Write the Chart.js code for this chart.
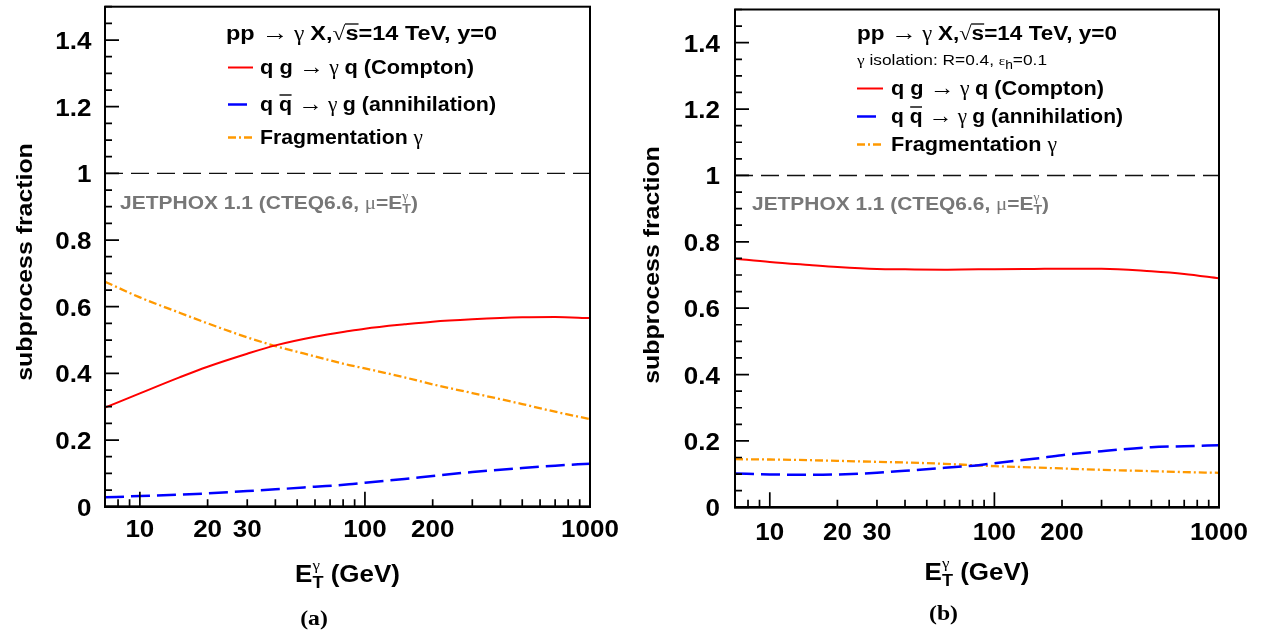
<!DOCTYPE html>
<html>
<head>
<meta charset="utf-8">
<script src="https://cdn.jsdelivr.net/npm/chart.js@4.4.0/dist/chart.umd.min.js"></script>
<style>
  html, body { margin: 0; padding: 0; background: #fff; }
  #wrap { position: relative; width: 1262px; height: 633px; overflow: hidden; }
  canvas { position: absolute; top: 0; }
  #panelA { left: 0; }
  #panelB { left: 631px; }
</style>
</head>
<body>
<div id="wrap">
  <canvas id="panelA" width="631" height="633"></canvas>
  <canvas id="panelB" width="631" height="633"></canvas>
</div>
<script>
// Photon transverse energy grid (GeV)
const energies = [7, 10, 15, 20, 30, 40, 60, 85, 100, 150, 200, 300, 500, 700, 1000];

// (a) inclusive photons
const comptonA       = [0.297, 0.340, 0.388, 0.420, 0.459, 0.484, 0.510, 0.527, 0.534, 0.547, 0.555, 0.562, 0.568, 0.569, 0.566];
const annihilationA  = [0.028, 0.032, 0.036, 0.040, 0.047, 0.052, 0.060, 0.067, 0.072, 0.083, 0.092, 0.104, 0.116, 0.123, 0.129];
const fragmentationA = [0.675, 0.628, 0.582, 0.550, 0.508, 0.482, 0.451, 0.425, 0.415, 0.388, 0.367, 0.341, 0.308, 0.285, 0.263];

// (b) isolated photons
const comptonB       = [0.749, 0.739, 0.730, 0.724, 0.718, 0.717, 0.716, 0.717, 0.717, 0.718, 0.719, 0.719, 0.711, 0.703, 0.690];
const annihilationB  = [0.102, 0.099, 0.098, 0.099, 0.104, 0.110, 0.119, 0.127, 0.133, 0.146, 0.157, 0.169, 0.181, 0.184, 0.187];
const fragmentationB = [0.145, 0.144, 0.142, 0.140, 0.137, 0.135, 0.131, 0.126, 0.124, 0.120, 0.117, 0.113, 0.109, 0.106, 0.104];

// reference level at fraction = 1
const unityE = [7, 1000];
const unityLevel = [1, 1];

const xTickValues = [10, 20, 30, 100, 200, 1000];
const xTickLabels = ['10', '20', '30', '100', '200', '1000'];
const yTickValues = [0, 0.2, 0.4, 0.6, 0.8, 1, 1.2, 1.4];
const yTickLabels = ['0', '0.2', '0.4', '0.6', '0.8', '1', '1.2', '1.4'];

// ---- text helpers (horizontally widened Helvetica-style lettering) ----
const SX = 1.13;
const SANS = '"Liberation Sans", Arial, Helvetica, sans-serif';
const SERIF = '"Liberation Serif", "DejaVu Serif", serif';
const bold = s => `bold ${s}px ${SANS}`;
const plain = s => `${s}px ${SANS}`;
const greek = s => `${s}px ${SERIF}`;

function partWidth(ctx, p, sx) { ctx.font = p.font; return ctx.measureText(p.text).width * sx; }
function richWidth(ctx, parts, sx) {
  let w = 0, held = 0;
  for (const p of parts) {
    const pw = partWidth(ctx, p, sx);
    if (p.hold) { held = Math.max(held, pw); continue; }
    w += Math.max(held, pw); held = 0;
  }
  return w + held;
}
// draws a run of mixed-font text; if fitWidth is given the run is stretched to that width
function drawRich(ctx, x, y, parts, align = 'left', color = '#000', fitWidth = null) {
  ctx.save();
  ctx.textBaseline = 'alphabetic';
  ctx.textAlign = 'left';
  const sx = fitWidth ? fitWidth / richWidth(ctx, parts, 1) : SX;
  const total = richWidth(ctx, parts, sx);
  let cx = align === 'center' ? x - total / 2 : align === 'right' ? x - total : x;
  let held = 0;
  for (const p of parts) {
    const pw = partWidth(ctx, p, sx);
    ctx.save();
    ctx.translate(cx, y + (p.dy || 0));
    ctx.scale(sx, 1);
    ctx.font = p.font;
    ctx.fillStyle = p.color || color;
    ctx.fillText(p.text, 0, 0);
    ctx.restore();
    if (p.bar) {
      ctx.save();
      ctx.strokeStyle = p.color || color;
      ctx.lineWidth = p.bar.w || 1.4;
      ctx.beginPath();
      ctx.moveTo(cx + (p.bar.x0 || 0), y + p.bar.y);
      ctx.lineTo(cx + pw + (p.bar.x1 || 0), y + p.bar.y);
      ctx.stroke();
      ctx.restore();
    }
    if (p.hold) { held = Math.max(held, pw); continue; }
    cx += Math.max(held, pw); held = 0;
  }
  ctx.restore();
}

// ---- per-panel annotation layout (page coordinates) ----
const decor = {
  panelA: {
    offset: 0, yLabelRight: 91.5, xLabelBase: 536.5,
    yTitle: { x: 32, y: 262 }, xTitle: { x: 347.5, y: 582 },
    tag: { text: '(a)', x: 314, y: 625 },
    header: { x: 226, y: 40, w: 271 }, iso: null,
    legend: { x0: 228, x1: 253, tx: 260, rows: [74, 111, 144], widths: [214, 236, 163] },
    jet: { x: 120, y: 209, w: 298 }
  },
  panelB: {
    offset: 631, yLabelRight: 720, xLabelBase: 540,
    yTitle: { x: 659, y: 265 }, xTitle: { x: 977, y: 580 },
    tag: { text: '(b)', x: 943.5, y: 620 },
    header: { x: 857, y: 40, w: 260 }, iso: { x: 857, y: 65, w: 190 },
    legend: { x0: 857, x1: 883, tx: 891, rows: [95, 123, 151], widths: [213, 232, 166] },
    jet: { x: 752, y: 210, w: 297 }
  }
};

const FS = 20;      // legend lettering
const AR = 23;      // arrow glyph
const legendRows = [
  { key: 'compton', parts: [
    { text: 'q g ', font: bold(FS) }, { text: '\u2192', font: greek(AR) },
    { text: ' \u03b3 ', font: greek(FS) }, { text: 'q (Compton)', font: bold(FS) }] },
  { key: 'annihilation', parts: [
    { text: 'q ', font: bold(FS) }, { text: 'q', font: bold(FS), bar: { y: -16, x0: 0.5, x1: -0.5 } },
    { text: ' ', font: bold(FS) }, { text: '\u2192', font: greek(AR) },
    { text: ' \u03b3 ', font: greek(FS) }, { text: 'g (annihilation)', font: bold(FS) }] },
  { key: 'fragmentation', parts: [
    { text: 'Fragmentation ', font: bold(FS) }, { text: '\u03b3', font: greek(FS) }] }
];

const panelDecor = {
  id: 'panelDecor',
  afterDraw(chart) {
    const d = decor[chart.canvas.id];
    const ctx = chart.ctx, a = chart.chartArea;
    const xs = chart.scales.x, ys = chart.scales.y;
    const o = d.offset;
    ctx.save();

    // tick marks, pointing into the frame
    ctx.strokeStyle = '#000';
    ctx.lineWidth = 1.7;
    ctx.beginPath();
    for (let k = 0; k <= 30; k++) {
      const v = k * 0.05;
      const py = ys.getPixelForValue(v);
      const len = (k % 4 === 0) ? 14 : 7;
      ctx.moveTo(a.left, py); ctx.lineTo(a.left + len, py);
    }
    for (let dec = 1; dec <= 100; dec *= 10) {
      for (let m = 1; m <= 9; m++) {
        const v = m * dec;
        if (v < 7 || v > 1000) continue;
        const px = xs.getPixelForValue(v);
        const len = (m === 1) ? 15 : 7.5;
        ctx.moveTo(px, a.bottom); ctx.lineTo(px, a.bottom - len);
      }
    }
    const px1000 = xs.getPixelForValue(1000);
    ctx.moveTo(px1000, a.bottom); ctx.lineTo(px1000, a.bottom - 15);
    ctx.stroke();

    // frame
    ctx.lineWidth = 2;
    ctx.strokeRect(a.left, a.top, a.right - a.left, a.bottom - a.top);
    ctx.lineWidth = 2.6;
    ctx.beginPath(); ctx.moveTo(a.left - 1, a.bottom); ctx.lineTo(a.right + 1, a.bottom); ctx.stroke();

    // tick labels
    yTickValues.forEach((v, i) => {
      drawRich(ctx, d.yLabelRight - o, ys.getPixelForValue(v) + 9, [{ text: yTickLabels[i], font: bold(23) }], 'right');
    });
    xTickValues.forEach((v, i) => {
      drawRich(ctx, xs.getPixelForValue(v), d.xLabelBase, [{ text: xTickLabels[i], font: bold(23) }], 'center');
    });

    // axis titles
    drawRich(ctx, d.xTitle.x - o, d.xTitle.y, [
      { text: 'E', font: bold(23) },
      { text: 'T', font: bold(16), dy: 6, hold: true },
      { text: '\u03b3', font: greek(15), dy: -12 },
      { text: ' (GeV)', font: bold(23) }], 'center');
    ctx.save();
    ctx.translate(d.yTitle.x - o, d.yTitle.y);
    ctx.rotate(-Math.PI / 2);
    drawRich(ctx, 0, 0, [{ text: 'subprocess fraction', font: bold(22) }], 'center');
    ctx.restore();

    // panel tag
    drawRich(ctx, d.tag.x - o, d.tag.y, [{ text: d.tag.text, font: `bold 21px ${SERIF}` }], 'center');

    // header
    drawRich(ctx, d.header.x - o, d.header.y, [
      { text: 'pp ', font: bold(FS) }, { text: '\u2192', font: greek(AR) },
      { text: ' \u03b3 ', font: greek(FS) }, { text: 'X,', font: bold(FS) },
      { text: '\u221a', font: greek(FS) },
      { text: 's', font: bold(FS), bar: { y: -16, x0: -0.5, w: 1.3 } },
      { text: '=14 TeV, y=0', font: bold(FS) }], 'left', '#000', d.header.w);

    if (d.iso) {
      drawRich(ctx, d.iso.x - o, d.iso.y, [
        { text: '\u03b3', font: greek(15) },
        { text: ' isolation: R=0.4, ', font: plain(15) },
        { text: '\u03b5', font: greek(13) },
        { text: 'h', font: plain(12), dy: 4 },
        { text: '=0.1', font: plain(15) }], 'left', '#000', d.iso.w);
    }

    // legend
    const byLabel = {};
    chart.data.datasets.forEach(ds => { byLabel[ds.label] = ds; });
    legendRows.forEach((row, i) => {
      const ds = byLabel[row.key];
      const base = d.legend.rows[i];
      ctx.save();
      ctx.strokeStyle = ds.borderColor;
      ctx.lineWidth = ds.borderWidth;
      ctx.setLineDash(ds.borderDash || []);
      ctx.beginPath();
      ctx.moveTo(d.legend.x0 - o, base - 6.5);
      ctx.lineTo(d.legend.x1 - o, base - 6.5);
      ctx.stroke();
      ctx.restore();
      drawRich(ctx, d.legend.tx - o, base, row.parts, 'left', '#000', d.legend.widths[i]);
    });

    // generator label
    const g = '#777777';
    drawRich(ctx, d.jet.x - o, d.jet.y, [
      { text: 'JETPHOX 1.1 (CTEQ6.6, ', font: bold(18.5) },
      { text: '\u03bc', font: greek(18.5) },
      { text: '=E', font: bold(18.5) },
      { text: 'T', font: bold(12.5), dy: 4, hold: true },
      { text: '\u03b3', font: greek(12), dy: -9 },
      { text: ')', font: bold(18.5) }], 'left', g, d.jet.w);

    ctx.restore();
  }
};

function series(values) { return energies.map((e, i) => ({ x: e, y: values[i] })); }

function buildPanel(id, compton, annihilation, fragmentation, geom) {
  return new Chart(document.getElementById(id), {
    type: 'line',
    data: {
      datasets: [
        { label: 'compton', data: series(compton), borderColor: '#ff0000', borderWidth: 2,
          pointRadius: 0, cubicInterpolationMode: 'monotone', fill: false },
        { label: 'annihilation', data: series(annihilation), borderColor: '#0000ff', borderWidth: 2.5,
          borderDash: [19, 7], pointRadius: 0, cubicInterpolationMode: 'monotone', fill: false },
        { label: 'fragmentation', data: series(fragmentation), borderColor: '#ff9900', borderWidth: 2.3,
          borderDash: [8, 3, 2, 3], pointRadius: 0, cubicInterpolationMode: 'monotone', fill: false },
        { label: 'unity', data: unityE.map((e, i) => ({ x: e, y: unityLevel[i] })), borderColor: '#111111',
          borderWidth: 1.4, borderDash: [18, 8], pointRadius: 0, tension: 0, fill: false }
      ]
    },
    options: {
      responsive: false,
      animation: false,
      devicePixelRatio: 1,
      layout: { padding: { left: 0, top: geom.top, right: geom.right, bottom: 0 } },
      plugins: { legend: { display: false }, tooltip: { enabled: false } },
      scales: {
        x: {
          type: 'logarithmic', min: 7, max: 1000,
          ticks: { display: false }, grid: { display: false }, border: { display: false },
          afterFit(s) { s.height = geom.xh; s.paddingLeft = 0; s.paddingRight = 0; s.paddingTop = 0; s.paddingBottom = 0; }
        },
        y: {
          type: 'linear', min: 0, max: 1.5,
          ticks: { display: false }, grid: { display: false }, border: { display: false },
          afterFit(s) { s.width = geom.yw; s.paddingLeft = 0; s.paddingRight = 0; s.paddingTop = 0; s.paddingBottom = 0; }
        }
      }
    },
    plugins: [panelDecor]
  });
}

buildPanel('panelA', comptonA, annihilationA, fragmentationA, { top: 6.7, right: 41, xh: 126.3, yw: 105 });
buildPanel('panelB', comptonB, annihilationB, fragmentationB, { top: 9.5, right: 43, xh: 125.7, yw: 104 });
</script>
</body>
</html>
